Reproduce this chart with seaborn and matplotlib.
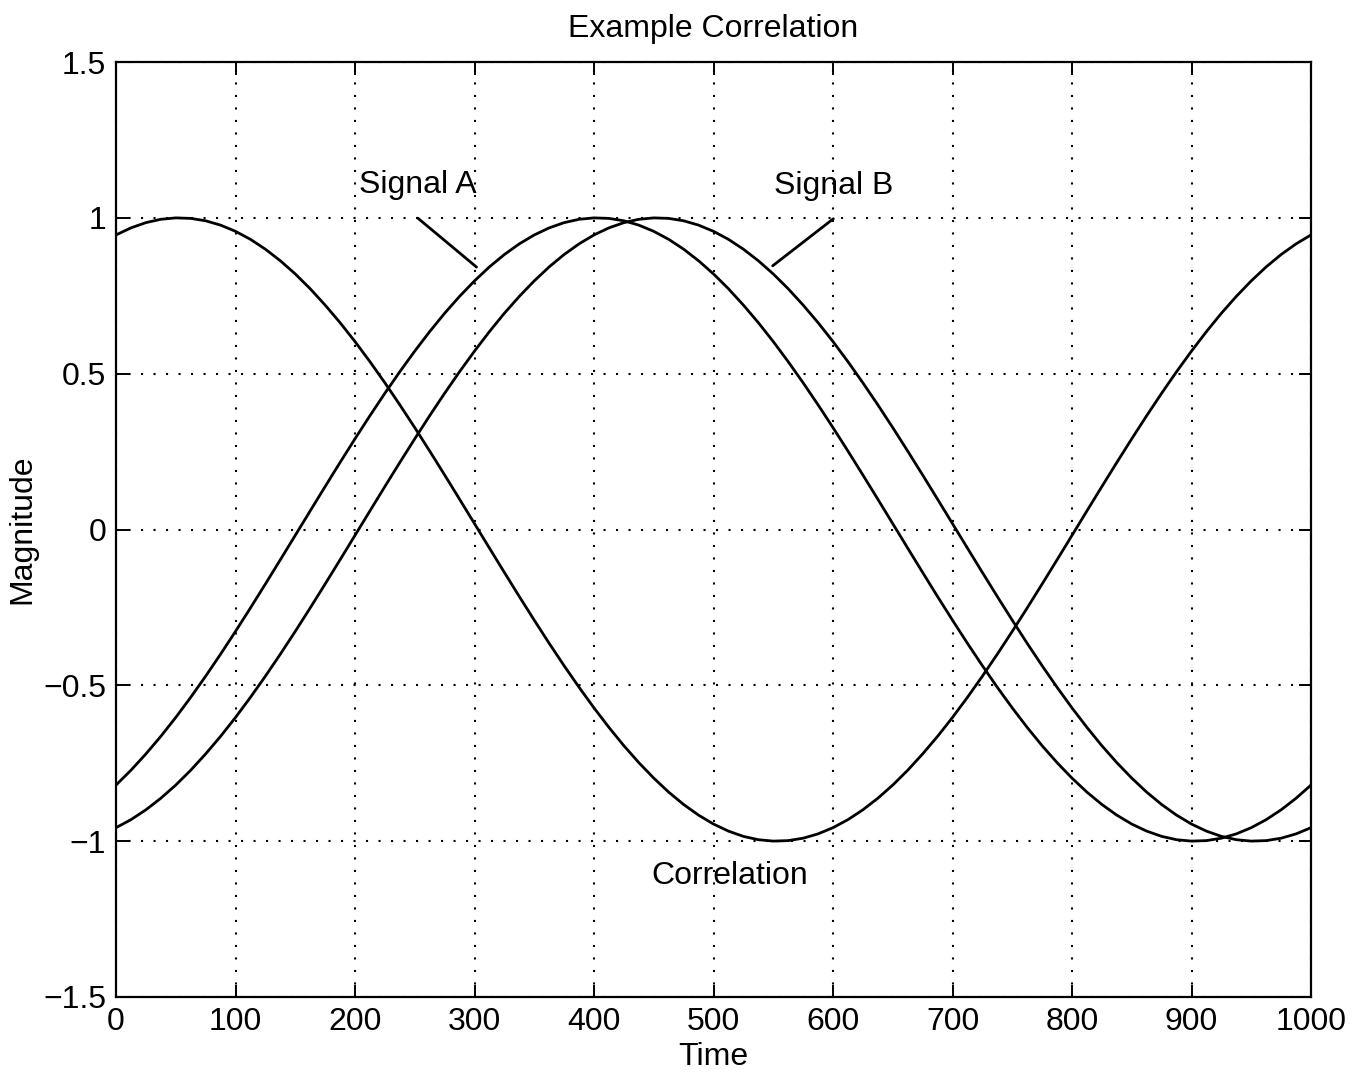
import matplotlib
matplotlib.use("Agg")
import matplotlib.pyplot as plt
import seaborn as sns
import pandas as pd

# ---- data ----
time = [12.5 * i for i in range(81)]

correlation = [
    0.9451, 0.9678, 0.9846, 0.9953, 0.9998, 0.9982, 0.9905, 0.9766,
    0.9567, 0.9310, 0.8994, 0.8623, 0.8200, 0.7725, 0.7201, 0.6637,
    0.6030, 0.5385, 0.4707, 0.4000, 0.3269, 0.2517, 0.1750, 0.0972,
    0.0188, -0.0597, -0.1378, -0.2151, -0.2910, -0.3652, -0.4371, -0.5063,
    -0.5724, -0.6350, -0.6938, -0.7480, -0.7977, -0.8427, -0.8823, -0.9165,
    -0.9451, -0.9678, -0.9846, -0.9953, -0.9998, -0.9982, -0.9905, -0.9766,
    -0.9567, -0.9310, -0.8994, -0.8623, -0.8200, -0.7725, -0.7201, -0.6637,
    -0.6030, -0.5385, -0.4707, -0.4000, -0.3269, -0.2517, -0.1750, -0.0972,
    -0.0188, 0.0597, 0.1378, 0.2151, 0.2910, 0.3652, 0.4371, 0.5063,
    0.5724, 0.6350, 0.6938, 0.7480, 0.7977, 0.8427, 0.8823, 0.9165,
    0.9451]

signal_a = [
    -0.8200, -0.7725, -0.7201, -0.6637, -0.6030, -0.5385, -0.4707, -0.4000,
    -0.3269, -0.2517, -0.1750, -0.0972, -0.0188, 0.0597, 0.1378, 0.2151,
    0.2910, 0.3652, 0.4371, 0.5063, 0.5724, 0.6350, 0.6938, 0.7480,
    0.7977, 0.8427, 0.8823, 0.9165, 0.9451, 0.9678, 0.9846, 0.9953,
    0.9998, 0.9982, 0.9905, 0.9766, 0.9567, 0.9310, 0.8994, 0.8623,
    0.8200, 0.7725, 0.7201, 0.6637, 0.6030, 0.5385, 0.4707, 0.4000,
    0.3269, 0.2517, 0.1750, 0.0972, 0.0188, -0.0597, -0.1378, -0.2151,
    -0.2910, -0.3652, -0.4371, -0.5063, -0.5724, -0.6350, -0.6938, -0.7480,
    -0.7977, -0.8427, -0.8823, -0.9165, -0.9451, -0.9678, -0.9846, -0.9953,
    -0.9998, -0.9982, -0.9905, -0.9766, -0.9567, -0.9310, -0.8994, -0.8623,
    -0.8200]

signal_b = [
    -0.9567, -0.9310, -0.8994, -0.8623, -0.8200, -0.7725, -0.7201, -0.6637,
    -0.6030, -0.5385, -0.4707, -0.4000, -0.3269, -0.2517, -0.1750, -0.0972,
    -0.0188, 0.0597, 0.1378, 0.2151, 0.2910, 0.3652, 0.4371, 0.5063,
    0.5724, 0.6350, 0.6938, 0.7480, 0.7977, 0.8427, 0.8823, 0.9165,
    0.9451, 0.9678, 0.9846, 0.9953, 0.9998, 0.9982, 0.9905, 0.9766,
    0.9567, 0.9310, 0.8994, 0.8623, 0.8200, 0.7725, 0.7201, 0.6637,
    0.6030, 0.5385, 0.4707, 0.4000, 0.3269, 0.2517, 0.1750, 0.0972,
    0.0188, -0.0597, -0.1378, -0.2151, -0.2910, -0.3652, -0.4371, -0.5063,
    -0.5724, -0.6350, -0.6938, -0.7480, -0.7977, -0.8427, -0.8823, -0.9165,
    -0.9451, -0.9678, -0.9846, -0.9953, -0.9998, -0.9982, -0.9905, -0.9766,
    -0.9567]

x_ticks = list(range(0, 1001, 100))
x_tick_labels = [str(v) for v in x_ticks]
y_ticks = [-1.5, -1.0, -0.5, 0.0, 0.5, 1.0, 1.5]
y_tick_labels = ["\u22121.5", "\u22121", "\u22120.5", "0", "0.5", "1", "1.5"]

title = "Example Correlation"
x_label = "Time"
y_label = "Magnitude"

# annotations: (text, text_x, text_y, line_start, line_end)
annotations = [
    ("Signal A", 252.3, 1.080, (252.6, 0.999), (301.7, 0.842)),
    ("Signal B", 600.3, 1.075, (600.3, 0.997), (549.5, 0.846)),
    ("Correlation", 513.4, -1.138, None, None),
]

# ---- styling ----
sns.set_theme(style="white")
plt.rcParams["font.family"] = ["Liberation Sans", "DejaVu Sans"]
plt.rcParams["axes.unicode_minus"] = True
FS = 23

fig = plt.figure(figsize=(13.61, 10.79), dpi=100)
ax = fig.add_axes([116 / 1361, 1 - 997 / 1079, (1311 - 116) / 1361, (997 - 62) / 1079])

df = pd.DataFrame({"Time": time, "Correlation": correlation,
                   "Signal A": signal_a, "Signal B": signal_b})
for col in ["Correlation", "Signal A", "Signal B"]:
    sns.lineplot(data=df, x="Time", y=col, ax=ax, color="black", linewidth=2.0,
                 legend=False, solid_joinstyle="round")

ax.set_xlim(0, 1000)
ax.set_ylim(-1.5, 1.5)
ax.set_xticks(x_ticks)
ax.set_xticklabels(x_tick_labels)
ax.set_yticks(y_ticks)
ax.set_yticklabels(y_tick_labels)

ax.grid(True, color="black", linestyle=(0, (1, 5)), linewidth=1.5)
ax.tick_params(direction="in", length=9, width=1.4, colors="black",
               labelsize=FS, top=True, right=True, bottom=True, left=True, pad=7)
for s in ax.spines.values():
    s.set_visible(True)
    s.set_color("black")
    s.set_linewidth(1.6)

ax.set_title(title, fontsize=FS, pad=18, color="black")
ax.set_xlabel(x_label, fontsize=FS, labelpad=4, color="black")
ax.set_ylabel(y_label, fontsize=FS, labelpad=4, color="black")

for text, tx, ty, p0, p1 in annotations:
    ax.text(tx, ty, text, fontsize=FS, ha="center", va="baseline", color="black")
    if p0 is not None:
        ax.plot([p0[0], p1[0]], [p0[1], p1[1]], color="black", linewidth=2.0)

fig.savefig("out.png", dpi=100, facecolor="white")
